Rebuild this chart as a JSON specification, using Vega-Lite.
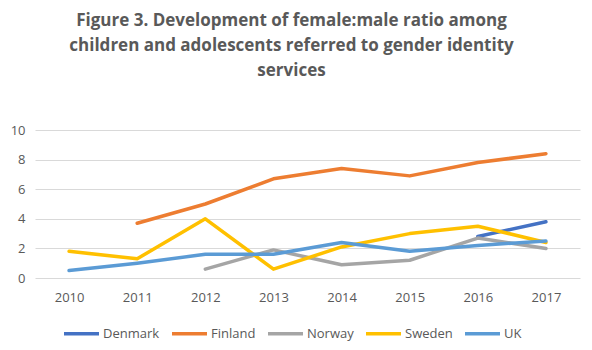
{
  "$schema": "https://vega.github.io/schema/vega-lite/v6.json",
  "width": 545,
  "height": 148,
  "autosize": {"type": "none"},
  "padding": {"left": 35, "top": 130, "right": 12, "bottom": 72},
  "background": "white",
  "config": {
    "font": "Open Sans",
    "view": {"stroke": null}
  },
  "title": {
    "text": ["Figure 3. Development of female:male ratio among", "children and adolescents referred to gender identity", "services"],
    "fontSize": 17,
    "fontWeight": "bold",
    "color": "#595959",
    "lineHeight": 25,
    "offset": 44,
    "dx": -16
  },
  "data": {
    "values": [
      {"year": "2016", "country": "Denmark", "ratio": 2.8},
      {"year": "2017", "country": "Denmark", "ratio": 3.8},
      {"year": "2011", "country": "Finland", "ratio": 3.7},
      {"year": "2012", "country": "Finland", "ratio": 5.0},
      {"year": "2013", "country": "Finland", "ratio": 6.7},
      {"year": "2014", "country": "Finland", "ratio": 7.4},
      {"year": "2015", "country": "Finland", "ratio": 6.9},
      {"year": "2016", "country": "Finland", "ratio": 7.8},
      {"year": "2017", "country": "Finland", "ratio": 8.4},
      {"year": "2012", "country": "Norway", "ratio": 0.6},
      {"year": "2013", "country": "Norway", "ratio": 1.9},
      {"year": "2014", "country": "Norway", "ratio": 0.9},
      {"year": "2015", "country": "Norway", "ratio": 1.2},
      {"year": "2016", "country": "Norway", "ratio": 2.7},
      {"year": "2017", "country": "Norway", "ratio": 2.0},
      {"year": "2010", "country": "Sweden", "ratio": 1.8},
      {"year": "2011", "country": "Sweden", "ratio": 1.3},
      {"year": "2012", "country": "Sweden", "ratio": 4.0},
      {"year": "2013", "country": "Sweden", "ratio": 0.6},
      {"year": "2014", "country": "Sweden", "ratio": 2.1},
      {"year": "2015", "country": "Sweden", "ratio": 3.0},
      {"year": "2016", "country": "Sweden", "ratio": 3.5},
      {"year": "2017", "country": "Sweden", "ratio": 2.4},
      {"year": "2010", "country": "UK", "ratio": 0.5},
      {"year": "2011", "country": "UK", "ratio": 1.0},
      {"year": "2012", "country": "UK", "ratio": 1.6},
      {"year": "2013", "country": "UK", "ratio": 1.6},
      {"year": "2014", "country": "UK", "ratio": 2.4},
      {"year": "2015", "country": "UK", "ratio": 1.8},
      {"year": "2016", "country": "UK", "ratio": 2.2},
      {"year": "2017", "country": "UK", "ratio": 2.5}
    ]
  },
  "mark": {"type": "line", "strokeWidth": 3.5, "strokeCap": "round", "strokeJoin": "round"},
  "encoding": {
    "x": {
      "field": "year",
      "type": "ordinal",
      "scale": {"type": "point", "padding": 0.5},
      "axis": {
        "title": null,
        "labelAngle": 0,
        "domain": false,
        "ticks": false,
        "grid": false,
        "labelFontSize": 13,
        "labelColor": "#595959",
        "labelPadding": 13
      }
    },
    "y": {
      "field": "ratio",
      "type": "quantitative",
      "scale": {"domain": [0, 10]},
      "axis": {
        "title": null,
        "values": [0, 2, 4, 6, 8, 10],
        "domain": false,
        "ticks": false,
        "gridColor": "#D9D9D9",
        "gridWidth": 1,
        "labelFontSize": 13,
        "labelColor": "#595959",
        "labelPadding": 10
      }
    },
    "color": {
      "field": "country",
      "type": "nominal",
      "scale": {
        "domain": ["Denmark", "Finland", "Norway", "Sweden", "UK"],
        "range": ["#4472C4", "#ED7D31", "#A5A5A5", "#FFC000", "#5B9BD5"]
      },
      "legend": {
        "title": null,
        "orient": "none",
        "legendX": 27,
        "legendY": 184,
        "direction": "horizontal",
        "symbolType": "stroke",
        "symbolSize": 1225,
        "symbolStrokeWidth": 3.5,
        "labelFontSize": 13,
        "labelColor": "#595959",
        "labelOffset": 2,
        "columnPadding": 5
      }
    }
  }
}
